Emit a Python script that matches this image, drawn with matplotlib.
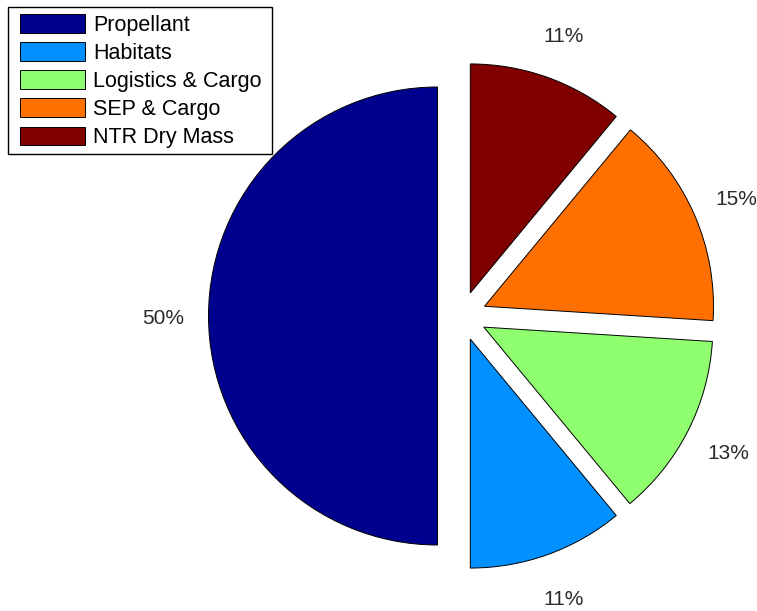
import matplotlib
matplotlib.use("Agg")
import matplotlib.pyplot as plt
from matplotlib.patches import Rectangle

# Mass breakdown by element
categories = ["Propellant", "Habitats", "Logistics & Cargo", "SEP & Cargo", "NTR Dry Mass"]
shares = [50, 11, 13, 15, 11]
colors = ["#00008F", "#0090FF", "#8FFF70", "#FF7000", "#800000"]

plt.rcParams["font.family"] = ["Liberation Sans", "DejaVu Sans"]

W, H, DPI = 757, 611, 100
fig = plt.figure(figsize=(W / DPI, H / DPI), dpi=DPI)
fig.patch.set_facecolor("white")
ax = fig.add_axes([0, 0, 1, 1])

wedges, texts = ax.pie(
    shares,
    colors=colors,
    explode=[0.107] * len(shares),
    startangle=90,
    counterclock=True,
    labels=[f"{v}%" for v in shares],
    labeldistance=1.2,
    wedgeprops=dict(edgecolor="black", linewidth=0.7),
    textprops=dict(fontsize=15, color="#2a2a2a"),
)
for t in texts:
    t.set_horizontalalignment("center")
    t.set_verticalalignment("center_baseline")

# pixel-based limits: pie centre at (462, 316), radius 229 px
cx, cy, r = 462, 316, 229
ax.set_aspect("auto")
ax.set_xlim(-cx / r, (W - cx) / r)
ax.set_ylim(-(H - cy) / r, cy / r)
ax.axis("off")

# legend entries without frame; the box is drawn separately with wider side margins
leg = fig.legend(
    wedges,
    categories,
    loc="upper left",
    bbox_to_anchor=(14 / W, 1 - 8 / H),
    fontsize=15.5,
    frameon=False,
    handlelength=3.0,
    handleheight=0.93,
    handletextpad=0.36,
    labelspacing=0.3,
    borderpad=0.3,
    borderaxespad=0,
)

fig.canvas.draw()
bb = leg.get_window_extent()
x0, y_top = 8, H - 7
x1 = bb.x1 + 4
y0 = bb.y0 + 1
fig.add_artist(Rectangle(
    (x0 / W, y0 / H), (x1 - x0) / W, (y_top - y0) / H,
    transform=fig.transFigure, facecolor="none", edgecolor="black",
    linewidth=1.0, zorder=10,
))

fig.savefig("out.png", dpi=DPI)
